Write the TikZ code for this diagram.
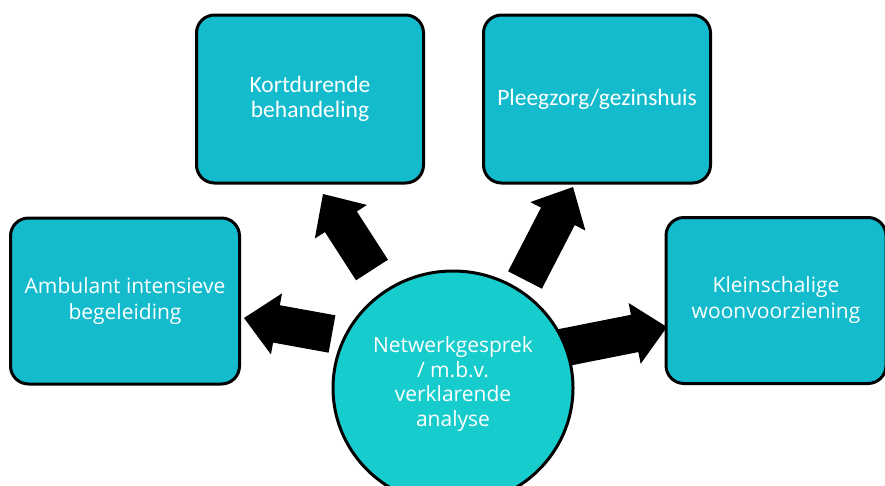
\documentclass[tikz,border=0pt]{standalone}
\usepackage{fontspec}
\setmainfont{Open Sans}
\newfontfamily\calibfont{Carlito}
\usetikzlibrary{calc}
\definecolor{boxfill}{HTML}{13BBCD}
\definecolor{circfill}{HTML}{17CCCC}
\tikzset{
  box/.style={draw=black, line width=3pt, fill=boxfill, rounded corners=18pt,
    text=white, align=center, inner sep=0pt},
  topbox/.style={box, minimum width=227pt, minimum height=168pt,
    font=\calibfont\fontsize{23.5}{25}\selectfont},
  sidebox/.style={box, minimum height=166pt,
    font=\fontsize{21}{26}\selectfont},
  blk/.style={fill=black}
}
\newcommand\blkarrow[2]{%
  \path coordinate (hb) at ($(#2)!33pt!(#1)$);
  \fill[blk] ($(#1)!19pt!90:(#2)$) -- ($(hb)!19pt!90:(#2)$) -- ($(hb)!31pt!90:(#2)$)
    -- (#2) -- ($(hb)!31pt!-90:(#2)$) -- ($(hb)!19pt!-90:(#2)$)
    -- ($(#1)!19pt!-90:(#2)$) -- cycle;
}
\begin{document}
\begin{tikzpicture}[x=1pt,y=-1pt]
\useasboundingbox (0,0) rectangle (885,485);
\clip (0,0) rectangle (885,485);
\node[topbox] (kort) at (310,99) {Kortdurende\\behandeling};
\node[topbox] (pleeg) at (597,99) {Pleegzorg/gezinshuis};
\node[sidebox, minimum width=229pt] (amb) at (125,301) {Ambulant intensieve\\begeleiding};
\node[sidebox, minimum width=220pt] (klein) at (776,300.5) {Kleinschalige\\woonvoorziening};
% arrows
\coordinate (t1) at (372,270); \coordinate (p1) at (323,194);
\coordinate (t2) at (525,280); \coordinate (p2) at (573,187);
\coordinate (t3) at (332,334); \coordinate (p3) at (244,318);
\coordinate (t4) at (561,348); \coordinate (p4) at (667,327);
\blkarrow{t1}{p1}
\blkarrow{t2}{p2}
\blkarrow{t3}{p3}
\blkarrow{t4}{p4}
% hub
\draw[draw=black, line width=3pt, fill=circfill] (453,388) ellipse [x radius=120, y radius=117];
\node[text=white, align=center, font=\fontsize{21}{24.5}\selectfont] (hub) at (453,384)
  {Netwerkgesprek\\/ m.b.v.\\verklarende\\analyse};
\end{tikzpicture}
\end{document}
